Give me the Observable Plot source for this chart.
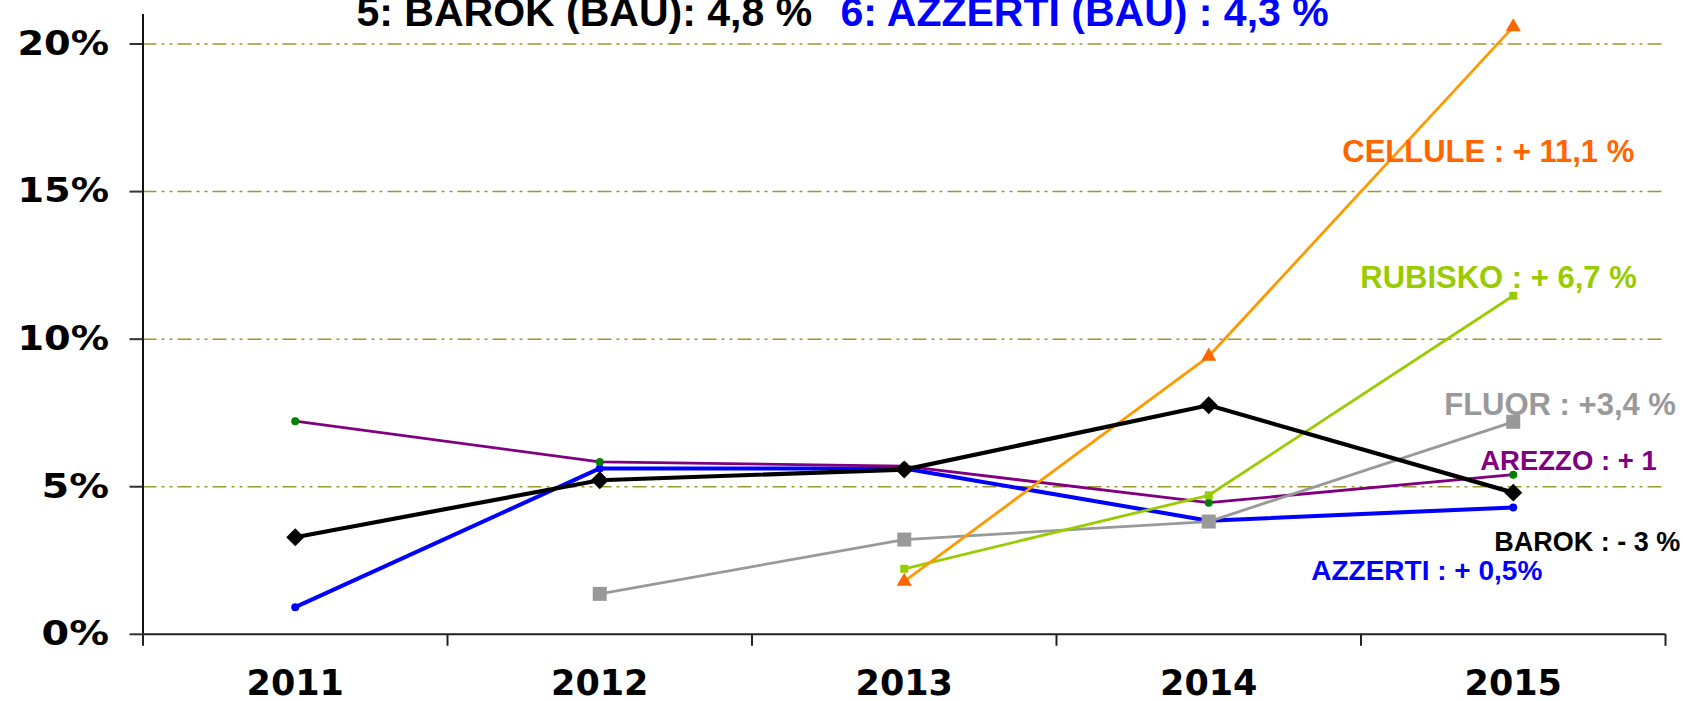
<!DOCTYPE html>
<html><head><meta charset="utf-8">
<script src="https://cdn.jsdelivr.net/npm/d3@7"></script>
<script src="https://cdn.jsdelivr.net/npm/@observablehq/plot@0.6"></script>
<style>body{margin:0;background:#fff;overflow:hidden}</style>
</head><body><div id="chart"></div>
<script>
// ---- data ----
const years = [2011, 2012, 2013, 2014, 2015];
const azzerti = [0.92, 5.62, 5.62, 3.85, 4.30];
const arezzo  = [7.22, 5.84, 5.70, 4.46, 5.41];
const fluor   = [null, 1.37, 3.21, 3.82, 7.20];
const rubisko = [null, null, 2.22, 4.71, 11.47];
const cellule = [null, null, 1.79, 9.42, 20.58];
const barok   = [3.29, 5.22, 5.58, 7.76, 4.80];
const seriesNames = ["AZZERTI", "AREZZO", "FLUOR", "RUBISKO", "CELLULE", "BAROK"];
const endLabels = ["AZZERTI : + 0,5%", "AREZZO : + 1", "FLUOR : +3,4 %", "RUBISKO : + 6,7 %", "CELLULE : + 11,1 %", "BAROK : - 3 %"];
const yTicks = [0, 5, 10, 15, 20];
const titleParts = ["5: BAROK (BAU): 4,8 %", "6: AZZERTI (BAU) : 4,3 %"];

const values = {AZZERTI: azzerti, AREZZO: arezzo, FLUOR: fluor, RUBISKO: rubisko, CELLULE: cellule, BAROK: barok};

// ---- styles ----
const styles = {
  AZZERTI: {stroke: "#0000FF", sw: 4,   symbol: "circle",   fill: "#0000FF", r: 4,   label: "#0000FF", fs: 28,   dx: -202, dy: 64},
  AREZZO:  {stroke: "#800080", sw: 2.8, symbol: "circle",   fill: "#008000", r: 4,   label: "#800080", fs: 27.5, dx: -33,  dy: -13},
  FLUOR:   {stroke: "#999999", sw: 2.8, symbol: "square",   fill: "#999999", r: 7.9, label: "#999999", fs: 31,   dx: -69,  dy: -17},
  RUBISKO: {stroke: "#99CC00", sw: 2.8, symbol: "square",   fill: "#99CC00", r: 4.5, label: "#99CC00", fs: 31,   dx: -153, dy: -18},
  CELLULE: {stroke: "#FF9900", sw: 2.8, symbol: "triangle", fill: "#FF6600", r: 5.6, label: "#FF6600", fs: 31,   dx: -171, dy: 125},
  BAROK:   {stroke: "#000000", sw: 4.2, symbol: "diamond2", fill: "#000000", r: 8.1, label: "#000000", fs: 27,   dx: -19,  dy: 50}
};

const FONT_LABEL = "'Liberation Sans', Arial, sans-serif";
const FONT_AXIS = "'DejaVu Sans', Verdana, sans-serif";

const marks = [];
// grid
marks.push(Plot.ruleY(yTicks.filter(d => d > 0), {stroke: "#99992E", strokeWidth: 1.5, strokeDasharray: "14,5,3,5,3,5"}));

// series
seriesNames.forEach((name, k) => {
  const rows = years.map((yr, i) => ({year: yr, value: values[name][i]}));
  const s = styles[name];
  marks.push(Plot.line(rows, {x: "year", y: "value", stroke: s.stroke, strokeWidth: s.sw, strokeLinejoin: "round"}));
  marks.push(Plot.dot(rows.filter(d => d.value != null), {x: "year", y: "value", symbol: () => s.symbol, fill: s.fill, r: s.r, stroke: "none"}));
});

// end labels
seriesNames.forEach((name, k) => {
  const s = styles[name];
  const last = {year: years[years.length - 1], value: values[name][years.length - 1]};
  marks.push(Plot.text([last], {x: "year", y: "value", text: () => endLabels[k], fill: s.label, fontSize: s.fs,
    fontWeight: "bold", fontFamily: FONT_LABEL, textAnchor: "start", dx: s.dx, dy: s.dy}));
});

// axes
marks.push(Plot.ruleX([years[0] - 0.5], {stroke: "#111", strokeWidth: 2}));
marks.push(Plot.ruleY([0], {stroke: "#222", strokeWidth: 2}));
marks.push(Plot.axisY({ticks: yTicks, tickFormat: d => d + "%", tickSize: 13, tickPadding: 21, fontSize: 34,
  fontWeight: "bold", fontFamily: FONT_AXIS, stroke: "#333", strokeWidth: 2, fill: "black", label: null}));
marks.push(Plot.axisX({ticks: years.map(d => d - 0.5).concat([years[years.length - 1] + 0.5]), tickFormat: () => "",
  tickSize: 12, stroke: "#222", strokeWidth: 2, label: null}));
marks.push(Plot.axisX({ticks: years, tickFormat: d => String(d), tickSize: 0, tickPadding: 36, fontSize: 35,
  fontWeight: "bold", fontFamily: FONT_AXIS, fill: "black", label: null}));

// title
marks.push(Plot.text([titleParts[0]], {frameAnchor: "top-left", text: d => d, dx: 213.5, dy: 11, lineAnchor: "bottom",
  textAnchor: "start", fontSize: 41, fontWeight: "bold", fontFamily: FONT_LABEL, fill: "#000000"}));
marks.push(Plot.text([titleParts[1]], {frameAnchor: "top-left", text: d => d, dx: 697.5, dy: 11, lineAnchor: "bottom",
  textAnchor: "start", fontSize: 41, fontWeight: "bold", fontFamily: FONT_LABEL, fill: "#0000FF"}));

const chart = Plot.plot({
  width: 1693,
  height: 701,
  marginLeft: 142.5,
  marginRight: 28,
  marginTop: 14,
  marginBottom: 67.2,
  x: {type: "linear", domain: [years[0] - 0.5, years[years.length - 1] + 0.5], label: null},
  y: {domain: [0, 21], label: null},
  style: {background: "white", color: "black", fontFamily: FONT_AXIS},
  marks
});
document.getElementById("chart").appendChild(chart);

// Verdana-like wide bold figures on the y axis
d3.select(chart).selectAll('g[aria-label="y-axis tick label"] text').each(function() {
  const t = this.textContent;
  const digits = t.replace("%", "").length;
  this.setAttribute("textLength", ((digits * 0.711 + 1.273) * 34).toFixed(1));
  this.setAttribute("lengthAdjust", "spacingAndGlyphs");
});
</script>
</body></html>
